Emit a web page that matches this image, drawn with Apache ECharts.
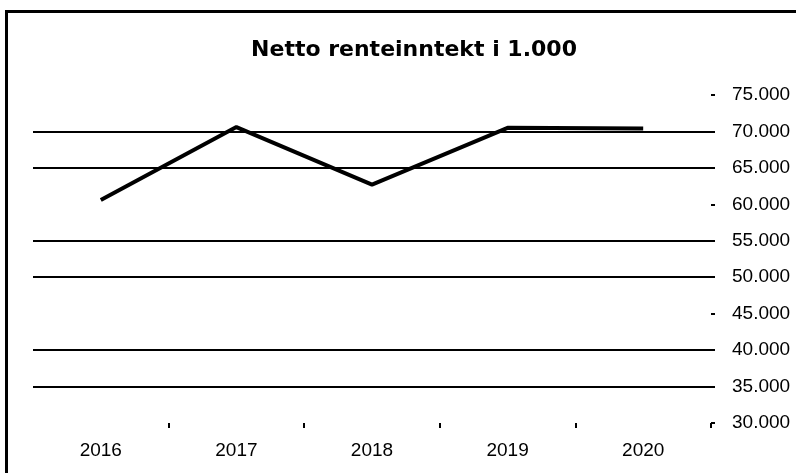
<!DOCTYPE html>
<html>
<head>
<meta charset="utf-8">
<script src="https://cdn.jsdelivr.net/npm/echarts@6/dist/echarts.min.js"></script>
<style>
html,body{margin:0;padding:0;background:#fff;}
#chart{width:796px;height:473px;}
</style>
</head>
<body>
<div id="chart"></div>
<script>
const titleText = 'Netto renteinntekt i 1.000';
const years = ['2016', '2017', '2018', '2019', '2020'];
const values = [60600, 70600, 62700, 70500, 70400];
const yMin = 30000;
const yMax = 75000;
const yStep = 5000;
const visibleGridValues = [35000, 40000, 50000, 55000, 65000, 70000];

function fmt(v) {
  return String(v).replace(/\B(?=(\d{3})+(?!\d))/g, '.');
}

const chart = echarts.init(document.getElementById('chart'));
chart.setOption({
  backgroundColor: '#ffffff',
  animation: false,
  title: {
    text: titleText,
    left: 409,
    top: 34,
    textAlign: 'center',
    textStyle: { fontFamily: 'DejaVu Sans', fontWeight: 'bold', fontSize: 22, color: '#000' }
  },
  graphic: [{
    type: 'rect',
    shape: { x: 6.5, y: 11.5, width: 900, height: 600 },
    style: { fill: 'none', stroke: '#000', lineWidth: 3 },
    silent: true
  }],
  grid: { left: 33, right: 85, top: 95, bottom: 50 },
  xAxis: {
    type: 'category',
    data: years,
    boundaryGap: true,
    axisLine: { show: false },
    axisTick: { show: true, length: 5, interval: function (i) { return i !== 0; }, lineStyle: { color: '#000', width: 2 } },
    axisLabel: { margin: 18, fontFamily: 'Liberation Sans', fontSize: 19, color: '#000' },
    splitLine: { show: false }
  },
  yAxis: {
    type: 'value',
    position: 'right',
    min: yMin,
    max: yMax,
    interval: yStep,
    axisLine: { show: false },
    axisTick: { show: true, length: 4, lineStyle: { color: '#000', width: 2 } },
    axisLabel: { margin: 21, fontFamily: 'Liberation Sans', fontSize: 19, color: '#000', formatter: fmt },
    splitLine: { show: false }
  },
  series: [{
    type: 'line',
    data: values,
    symbol: 'none',
    lineStyle: { color: '#000', width: 4 },
    z: 3,
    markLine: {
      silent: true,
      symbol: 'none',
      label: { show: false },
      lineStyle: { color: '#000', width: 2, type: 'solid' },
      data: visibleGridValues.map(v => ({ yAxis: v }))
    }
  }]
});
</script>
</body>
</html>
